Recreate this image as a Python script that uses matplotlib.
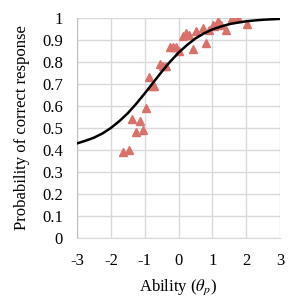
import numpy as np
import matplotlib
matplotlib.use('Agg')
import matplotlib.pyplot as plt

# ─── DATA ────────────────────────────────────────────────────────────────────
# observed proportions correct per ability group (read off the figure)
obs_theta = [-1.65, -1.47, -1.26, -1.05, -1.37, -1.15, -0.97, -0.87, -0.79, -0.71,
             -0.56, -0.45, -0.36, -0.26, -0.17, -0.07, 0.01, 0.13, 0.23, 0.32,
             0.42, 0.52, 0.71, 0.81, 0.91, 1.01, 1.06, 1.16, 1.26, 1.40,
             1.57, 1.76, 2.02]
obs_p = [0.39, 0.40, 0.48, 0.49, 0.54, 0.53, 0.59, 0.73, 0.69, 0.69,
         0.79, 0.78, 0.78, 0.87, 0.87, 0.87, 0.85, 0.916, 0.93, 0.924,
         0.86, 0.94, 0.955, 0.886, 0.947, 0.97, 0.965, 0.985, 0.97, 0.947,
         1.0, 1.0, 0.973]

# fitted item characteristic curve
icc_theta = [-3.0, -2.75, -2.5, -2.25, -2.0, -1.75, -1.5, -1.25, -1.0, -0.75, -0.5, -0.25, 0.0,
             0.25, 0.5, 0.75, 1.0, 1.25, 1.5, 1.75, 2.0, 2.25, 2.5, 2.75, 3.0]
icc_p = [0.430, 0.442, 0.456, 0.475, 0.500, 0.531, 0.567, 0.610, 0.657, 0.706, 0.755, 0.801, 0.842,
         0.877, 0.907, 0.930, 0.948, 0.961, 0.972, 0.979, 0.985, 0.989, 0.992, 0.994, 0.996]

x_ticks = [-3, -2, -1, 0, 1, 2, 3]
y_ticks = [0, 0.1, 0.2, 0.3, 0.4, 0.5, 0.6, 0.7, 0.8, 0.9, 1]
y_labels = ['0', '0.1', '0.2', '0.3', '0.4', '0.5', '0.6', '0.7', '0.8', '0.9', '1']

plt.rcParams['font.family'] = 'Liberation Serif'
plt.rcParams['mathtext.fontset'] = 'stix'

fig = plt.figure(figsize=(3.02, 3.02), dpi=100)
ax = fig.add_axes([77/302, 1 - 238/302, 203/302, 220/302])

ax.plot(obs_theta, obs_p, linestyle='none', marker='^', markersize=5.5,
        color='#d9706a', zorder=3)
ax.plot(icc_theta, icc_p, color='black', linewidth=1.8, zorder=4)

ax.set_xlim(-3, 3)
ax.set_ylim(0, 1)
ax.set_xticks(x_ticks)
ax.set_xticklabels([str(t) for t in x_ticks])
ax.set_yticks(y_ticks)
ax.set_yticklabels(y_labels)
ax.tick_params(length=0, labelsize=12)
ax.tick_params(axis='x', pad=11)
ax.tick_params(axis='y', pad=10)
ax.grid(color='#d9d9d9', linewidth=1)
for s in ax.spines.values():
    s.set_visible(False)
ax.spines['left'].set_visible(True)
ax.spines['left'].set_color('#bfbfbf')
ax.spines['bottom'].set_visible(True)
ax.spines['bottom'].set_color('#d9d9d9')

ax.set_xlabel(r'Ability ($\theta_p$)', fontsize=12, labelpad=6)
ax.set_ylabel('Probability of correct response', fontsize=12, labelpad=9)

fig.savefig('out.png', dpi=100)
